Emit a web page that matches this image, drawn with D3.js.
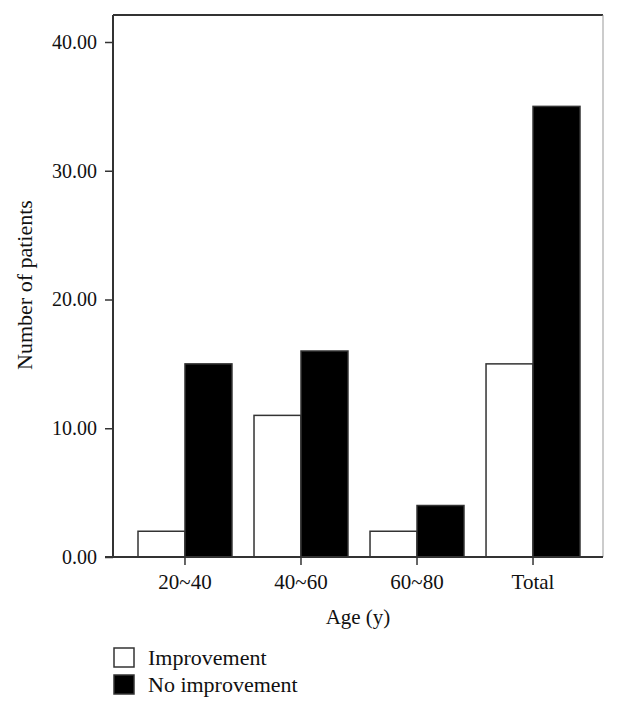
<!DOCTYPE html>
<html><head><meta charset="utf-8">
<script src="https://cdn.jsdelivr.net/npm/d3@7"></script>
<style>body{margin:0;background:#fff}svg text{font-family:"Liberation Serif","DejaVu Serif",serif;fill:#111}</style>
</head><body><svg id="c" width="618" height="714"></svg>
<script>
const categories = ["20~40","40~60","60~80","Total"];
const seriesNames = ["Improvement","No improvement"];
const improvement = [2, 11, 2, 15];
const noImprovement = [15, 16, 4, 35];
const yTicks = [0, 10, 20, 30, 40];

const svg = d3.select("#c");
const L = 113, R = 603, T = 15, B = 557;
const x = d3.scaleBand().domain(categories).range([138, 580]).paddingInner(0.19).paddingOuter(0);
const x1 = d3.scaleBand().domain(seriesNames).range([0, x.bandwidth()]);
const y = d3.scaleLinear().domain([0, 40]).range([B, 42]);
const colors = {"Improvement":"#fff","No improvement":"#000"};

// frame
svg.append("line").attr("x1",L).attr("x2",R).attr("y1",T).attr("y2",T).attr("stroke","#333").attr("stroke-width",2);
svg.append("line").attr("x1",R).attr("x2",R).attr("y1",T).attr("y2",B).attr("stroke","#999").attr("stroke-width",1);

const data = categories.map((c,i)=>({cat:c, vals:[{s:seriesNames[0],v:improvement[i]},{s:seriesNames[1],v:noImprovement[i]}]}));
const g = svg.append("g").selectAll("g").data(data).join("g").attr("transform",d=>`translate(${x(d.cat)},0)`);
g.selectAll("rect").data(d=>d.vals).join("rect")
  .attr("x",d=>x1(d.s)).attr("width",x1.bandwidth())
  .attr("y",d=>y(d.v)).attr("height",d=>B-y(d.v))
  .attr("fill",d=>colors[d.s]).attr("stroke","#333").attr("stroke-width",1.5);

// y axis
const ya = svg.append("g").attr("transform",`translate(${L},0)`)
  .call(d3.axisLeft(y).tickValues(yTicks).tickFormat(d3.format(".2f")).tickSize(8).tickPadding(8));
ya.select(".domain").attr("d",`M0,${T}V${B}`).attr("stroke","#333").attr("stroke-width",2);
ya.selectAll(".tick line").attr("stroke","#333").attr("stroke-width",1.5);
ya.selectAll("text").style("font-size","20px");

// x axis
const xa = svg.append("g").attr("transform",`translate(0,${B})`)
  .call(d3.axisBottom(x).tickSize(8).tickPadding(9));
xa.select(".domain").attr("d",`M${L-8},0H${R}`).attr("stroke","#333").attr("stroke-width",2);
xa.selectAll(".tick line").attr("stroke","#333").attr("stroke-width",1.5);
xa.selectAll("text").style("font-size","21px");

svg.append("text").attr("x",358).attr("y",624).attr("text-anchor","middle").style("font-size","21px").text("Age (y)");
svg.append("text").attr("transform","translate(32,285) rotate(-90)").attr("text-anchor","middle").style("font-size","22px").text("Number of patients");

// legend
const lg = svg.append("g").selectAll("g").data(seriesNames).join("g").attr("transform",(d,i)=>`translate(114,${648+i*27})`);
lg.append("rect").attr("width",20).attr("height",19).attr("fill",d=>colors[d]).attr("stroke","#333").attr("stroke-width",1.5);
lg.append("text").attr("x",34).attr("y",17).style("font-size","22px").text(d=>d);
</script></body></html>
